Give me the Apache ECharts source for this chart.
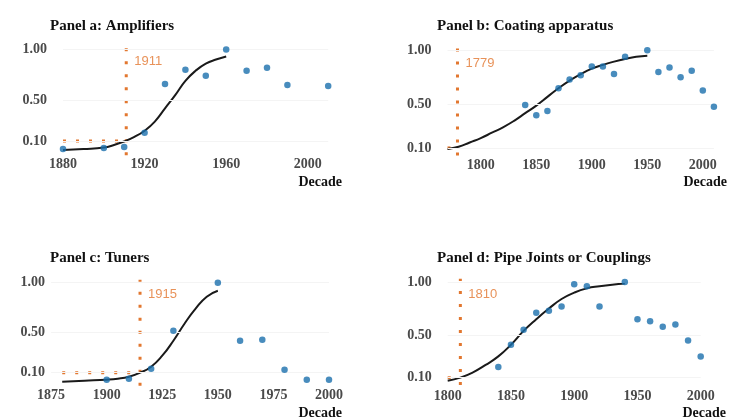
<!DOCTYPE html>
<html>
<head>
<meta charset="utf-8">
<script src="https://cdn.jsdelivr.net/npm/echarts@6/dist/echarts.min.js"></script>
<style>
  html, body { margin: 0; padding: 0; background: #ffffff; }
  #chart { width: 730px; height: 420px; }
</style>
</head>
<body>
<div id="chart"></div>
<script>
// ---- Panel a: Amplifiers ----
const ampYears = [1880, 1900, 1910, 1920, 1930, 1940, 1950, 1960, 1970, 1980, 1990, 2010];
const ampShare = [0.02, 0.03, 0.04, 0.18, 0.66, 0.80, 0.74, 1.00, 0.79, 0.82, 0.65, 0.64];
const ampFitYears = [1880, 1890, 1900, 1905, 1910, 1915, 1920, 1925, 1930, 1935, 1940, 1945, 1950, 1955, 1960];
const ampFit = [0.01, 0.02, 0.035, 0.06, 0.095, 0.14, 0.20, 0.29, 0.42, 0.55, 0.69, 0.79, 0.86, 0.90, 0.93];
const ampTakeoff = 1911;
const ampTicks = [1880, 1920, 1960, 2000];

// ---- Panel b: Coating apparatus ----
const coatYears = [1840, 1850, 1860, 1870, 1880, 1890, 1900, 1910, 1920, 1930, 1950, 1960, 1970, 1980, 1990, 2000, 2010];
const coatShare = [0.495, 0.40, 0.44, 0.65, 0.73, 0.77, 0.85, 0.85, 0.78, 0.94, 1.00, 0.80, 0.84, 0.75, 0.81, 0.63, 0.48];
const coatFitYears = [1770, 1780, 1790, 1800, 1810, 1820, 1830, 1840, 1850, 1860, 1870, 1880, 1890, 1900, 1910, 1920, 1930, 1940, 1950];
const coatFit = [0.09, 0.11, 0.15, 0.19, 0.24, 0.29, 0.35, 0.42, 0.49, 0.57, 0.65, 0.72, 0.78, 0.83, 0.865, 0.895, 0.92, 0.94, 0.95];
const coatTakeoff = 1779;
const coatTicks = [1800, 1850, 1900, 1950, 2000];

// ---- Panel c: Tuners ----
const tunerYears = [1900, 1910, 1920, 1930, 1950, 1960, 1970, 1980, 1990, 2000];
const tunerShare = [0.03, 0.04, 0.14, 0.52, 1.00, 0.42, 0.43, 0.13, 0.03, 0.03];
const tunerFitYears = [1880, 1890, 1900, 1905, 1910, 1915, 1920, 1925, 1930, 1935, 1940, 1945, 1950];
const tunerFit = [0.01, 0.02, 0.03, 0.04, 0.06, 0.10, 0.16, 0.27, 0.42, 0.59, 0.74, 0.86, 0.92];
const tunerTakeoff = 1915;
const tunerTicks = [1875, 1900, 1925, 1950, 1975, 2000];

// ---- Panel d: Pipe Joints or Couplings ----
const pipeYears = [1840, 1850, 1860, 1870, 1880, 1890, 1900, 1910, 1920, 1940, 1950, 1960, 1970, 1980, 1990, 2000];
const pipeShare = [0.20, 0.41, 0.55, 0.71, 0.73, 0.77, 0.98, 0.96, 0.77, 1.00, 0.65, 0.63, 0.58, 0.60, 0.45, 0.30];
const pipeFitYears = [1800, 1810, 1820, 1830, 1840, 1850, 1860, 1870, 1880, 1890, 1900, 1910, 1920, 1930, 1940];
const pipeFit = [0.07, 0.10, 0.15, 0.22, 0.30, 0.41, 0.54, 0.65, 0.75, 0.84, 0.90, 0.94, 0.96, 0.975, 0.985];
const pipeTakeoff = 1810;
const pipeTicks = [1800, 1850, 1900, 1950, 2000];

// shared
const shareTicks = [0.10, 0.50, 1.00];
const takeoffLevel = 0.10;
const yearLabelLevel = 0.88;

const BLUE = '#1a6fad';
const ORANGE = '#e2772f';
const SERIF = '"Liberation Serif", "Times New Roman", serif';

// Panel frames (pixel layout) and axis ranges
const panels = [
  { title: 'Panel a: Amplifiers', years: ampYears, share: ampShare, fitYears: ampFitYears, fit: ampFit,
    takeoff: ampTakeoff, ticks: ampTicks, xMin: 1880, xMax: 2010, vLine: [-0.04, 1.01],
    grid: { left: 63, top: 44.3, width: 265.2, height: 111.9 }, yMargin: 16, xMargin: 1,
    titlePos: { left: 50, top: 19 }, decade: { x: 342, y: 182 } },
  { title: 'Panel b: Coating apparatus', years: coatYears, share: coatShare, fitYears: coatFitYears, fit: coatFit,
    takeoff: coatTakeoff, ticks: coatTicks, xMin: 1770, xMax: 2010, vLine: [0.03, 1.02],
    grid: { left: 447.5, top: 44.8, width: 266.4, height: 119.4 }, yMargin: 16, xMargin: -6,
    titlePos: { left: 437, top: 19 }, decade: { x: 727, y: 182 } },
  { title: 'Panel c: Tuners', years: tunerYears, share: tunerShare, fitYears: tunerFitYears, fit: tunerFit,
    takeoff: tunerTakeoff, ticks: tunerTicks, xMin: 1875, xMax: 2000, vLine: [-0.03, 1.03],
    grid: { left: 51.1, top: 277.7, width: 277.9, height: 110 }, yMargin: 6, xMargin: 1,
    titlePos: { left: 50, top: 251 }, decade: { x: 342, y: 413 } },
  { title: 'Panel d: Pipe Joints or Couplings', years: pipeYears, share: pipeShare, fitYears: pipeFitYears, fit: pipeFit,
    takeoff: pipeTakeoff, ticks: pipeTicks, xMin: 1800, xMax: 2000, vLine: [0.03, 1.03],
    grid: { left: 447.7, top: 276.7, width: 253, height: 116.9 }, yMargin: 16, xMargin: -4.5,
    titlePos: { left: 437, top: 251 }, decade: { x: 726, y: 413 } }
];

const zip = (xs, ys) => xs.map((x, i) => [x, ys[i]]);

const option = {
  backgroundColor: '#ffffff',
  animation: false,
  title: [],
  grid: [],
  xAxis: [],
  yAxis: [],
  series: [],
  graphic: []
};

panels.forEach((p, i) => {
  option.title.push({
    text: p.title, left: p.titlePos.left, top: p.titlePos.top, padding: 0,
    textStyle: { fontFamily: SERIF, fontWeight: 'bold', fontSize: 15, color: '#111' }
  });
  option.grid.push(Object.assign({ outerBoundsMode: 'none', containLabel: false }, p.grid));
  option.xAxis.push({
    type: 'value', gridIndex: i, min: p.xMin, max: p.xMax,
    axisLine: { show: false }, axisTick: { show: false }, splitLine: { show: false },
    axisLabel: {
      customValues: p.ticks, margin: p.xMargin,
      fontFamily: SERIF, fontWeight: 'bold', fontSize: 14, color: '#4a4a4a',
      formatter: v => String(v)
    }
  });
  option.yAxis.push({
    type: 'value', gridIndex: i, min: -0.05, max: 1.05,
    axisLine: { show: false }, axisTick: { show: false }, splitLine: { show: false },
    axisLabel: {
      customValues: shareTicks, margin: p.yMargin,
      fontFamily: SERIF, fontWeight: 'bold', fontSize: 14, color: '#4a4a4a',
      formatter: v => v.toFixed(2)
    }
  });

  // square 3px dots every 13px
  const dotted = { color: ORANGE, width: 3, type: [3, 10], cap: 'butt' };

  // take-off year: vertical marker and level line
  option.series.push({
    type: 'line', xAxisIndex: i, yAxisIndex: i, silent: true, symbol: 'none', clip: false,
    data: [[p.takeoff, p.vLine[0]], [p.takeoff, p.vLine[1]]], lineStyle: dotted, z: 2
  });
  option.series.push({
    type: 'line', xAxisIndex: i, yAxisIndex: i, silent: true, symbol: 'none', clip: false,
    data: [[p.fitYears[0], takeoffLevel], [p.takeoff, takeoffLevel]], lineStyle: dotted, z: 2
  });
  option.series.push({
    type: 'scatter', xAxisIndex: i, yAxisIndex: i, silent: true, symbolSize: 0,
    data: [[p.takeoff, yearLabelLevel]],
    label: {
      show: true, position: 'right', distance: 8,
      formatter: d => String(d.value[0]),
      fontFamily: '"Liberation Sans", Arial, sans-serif', fontSize: 13, color: ORANGE
    }, z: 3
  });

  // fitted diffusion curve
  option.series.push({
    type: 'line', xAxisIndex: i, yAxisIndex: i, silent: true, symbol: 'none', smooth: true,
    data: zip(p.fitYears, p.fit), lineStyle: { color: '#1a1a1a', width: 2 }, z: 4
  });

  // observed shares
  option.series.push({
    type: 'scatter', xAxisIndex: i, yAxisIndex: i, symbolSize: 6.5,
    data: zip(p.years, p.share), itemStyle: { color: BLUE }, z: 5,
    markLine: {
      silent: true, symbol: 'none', label: { show: false },
      lineStyle: { color: '#f4f4f4', type: 'solid', width: 1 },
      data: shareTicks.map(v => ({ yAxis: v }))
    }
  });

  option.graphic.push({
    type: 'text', x: p.decade.x, y: p.decade.y,
    style: {
      text: 'Decade', align: 'right', verticalAlign: 'middle',
      fontFamily: SERIF, fontWeight: 'bold', fontSize: 14, fill: '#111'
    }
  });
});

const chart = echarts.init(document.getElementById('chart'), null, { renderer: 'canvas' });
chart.setOption(option);
</script>
</body>
</html>
